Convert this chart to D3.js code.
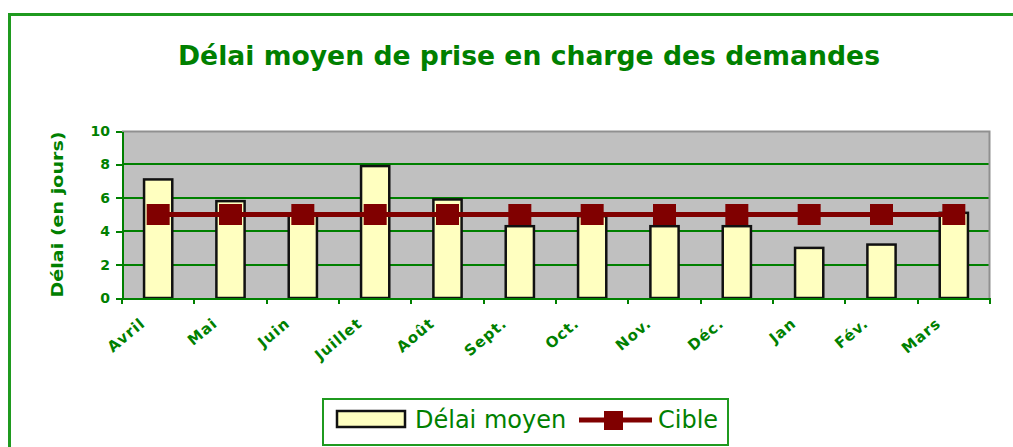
<!DOCTYPE html>
<meta charset="utf-8">
<head>
    <title>Délai moyen</title>
    <style>
        body { margin: 0; background: #ffffff; }
        svg { display: block; }
        .axis path, .axis line { stroke: #008000; stroke-width: 2px; shape-rendering: crispEdges; }
        .axis text { fill: #008000; font-family: "DejaVu Sans", sans-serif; font-weight: bold; }
        .grid line { stroke: #008000; stroke-width: 2px; shape-rendering: crispEdges; }
    </style>
</head>
<body>
<svg width="1013" height="447"></svg>
<script src="https://d3js.org/d3.v7.min.js"></script>
<script>
    var months = ["Avril", "Mai", "Juin", "Juillet", "Août", "Sept.", "Oct.", "Nov.", "Déc.", "Jan", "Fév.", "Mars"];
    var delai = [7.1, 5.8, 5.0, 7.9, 5.9, 4.3, 4.9, 4.3, 4.3, 3.0, 3.2, 5.1];
    var cible = [5, 5, 5, 5, 5, 5, 5, 5, 5, 5, 5, 5];
    var yTicks = [0, 2, 4, 6, 8, 10];

    var green = "#008000", dark = "#800000", barFill = "#FFFFC0";

    var svg = d3.select("svg");
    var margin = {top: 131, left: 122, right: 23, bottom: 149};
    var width = 1013 - margin.left - margin.right,
        height = 447 - margin.top - margin.bottom;

    // outer chart border (runs off the right and bottom)
    svg.append("rect")
        .attr("x", 9.5).attr("y", 14.5)
        .attr("width", 1100).attr("height", 600)
        .attr("fill", "none").attr("stroke", "#1f9a1f").attr("stroke-width", 3);

    svg.append("text")
        .attr("x", 529).attr("y", 65)
        .attr("text-anchor", "middle")
        .attr("textLength", 702).attr("lengthAdjust", "spacingAndGlyphs")
        .style("font-family", "DejaVu Sans, sans-serif")
        .style("font-weight", "bold").style("font-size", "26px")
        .style("fill", green)
        .text("Délai moyen de prise en charge des demandes");

    var x = d3.scaleBand().domain(months).range([0, width]).padding(0);
    var y = d3.scaleLinear().domain([0, 10]).range([height, 0]);

    var g = svg.append("g")
        .attr("transform", "translate(" + margin.left + "," + margin.top + ")");

    g.append("rect")
        .attr("width", width).attr("height", height)
        .attr("fill", "#C0C0C0");

    g.append("g").attr("class", "grid")
        .selectAll("line")
        .data(yTicks.slice(1, -1))
        .enter().append("line")
        .attr("x1", 0).attr("x2", width)
        .attr("y1", function(d) { return y(d); })
        .attr("y2", function(d) { return y(d); });

    // plot frame top/right in grey
    g.append("path")
        .attr("d", "M0,0.5H" + (width - 0.5) + "V" + height)
        .attr("fill", "none").attr("stroke", "#909090").attr("stroke-width", 2);

    var bw = x.step() * 0.39;
    g.selectAll(".bar")
        .data(delai)
        .enter().append("rect")
        .attr("class", "bar")
        .attr("x", function(d, i) { return x(months[i]) + x.step() / 2 - bw / 2; })
        .attr("y", function(d) { return y(d); })
        .attr("width", bw)
        .attr("height", function(d) { return height - y(d); })
        .attr("fill", barFill)
        .attr("stroke", "#111").attr("stroke-width", 2.5);

    var line = d3.line()
        .x(function(d, i) { return x(months[i]) + x.step() / 2; })
        .y(function(d) { return y(d); });

    g.append("path")
        .datum(cible)
        .attr("d", line)
        .attr("fill", "none").attr("stroke", dark).attr("stroke-width", 5);

    g.selectAll(".mark")
        .data(cible)
        .enter().append("rect")
        .attr("class", "mark")
        .attr("x", function(d, i) { return x(months[i]) + x.step() / 2 - 11.5; })
        .attr("y", function(d) { return y(d) - 10.5; })
        .attr("width", 23).attr("height", 21)
        .attr("fill", dark);

    var yAxis = g.append("g").attr("class", "axis")
        .call(d3.axisLeft(y).tickValues(yTicks).tickSizeInner(6).tickSizeOuter(0).tickPadding(6));
    yAxis.selectAll("text").style("font-size", "14px");

    var xAxis = g.append("g").attr("class", "axis")
        .attr("transform", "translate(0," + height + ")")
        .call(d3.axisBottom(x).tickSize(0).tickFormat(""));
    xAxis.selectAll(".sep")
        .data(d3.range(months.length + 1))
        .enter().append("line")
        .attr("class", "sep")
        .attr("x1", function(i) { return i * x.step(); })
        .attr("x2", function(i) { return i * x.step(); })
        .attr("y1", 0).attr("y2", 6);

    g.append("g")
        .selectAll("text")
        .data(months)
        .enter().append("text")
        .attr("transform", function(d) {
            return "translate(" + (x(d) + x.step() / 2 - 12) + "," + (height + 27) + ") rotate(-40)";
        })
        .attr("text-anchor", "end")
        .style("font-family", "DejaVu Sans, sans-serif")
        .style("font-weight", "bold").style("font-size", "15px")
        .style("letter-spacing", "1px")
        .style("fill", green)
        .text(function(d) { return d; });

    svg.append("text")
        .attr("transform", "translate(63," + (margin.top + height / 2) + ") rotate(-90)")
        .attr("text-anchor", "middle")
        .attr("textLength", 166).attr("lengthAdjust", "spacingAndGlyphs")
        .style("font-family", "DejaVu Sans, sans-serif")
        .style("font-weight", "bold").style("font-size", "15px")
        .style("fill", green)
        .text("Délai (en jours)");

    // legend
    var lg = svg.append("g").attr("transform", "translate(323,399)");
    lg.append("rect")
        .attr("width", 405).attr("height", 46)
        .attr("fill", "#fff").attr("stroke", "#1f9a1f").attr("stroke-width", 2);
    lg.append("rect")
        .attr("x", 14).attr("y", 12).attr("width", 68).attr("height", 16)
        .attr("fill", barFill).attr("stroke", "#111").attr("stroke-width", 2.5);
    lg.append("text")
        .attr("x", 92).attr("y", 29)
        .style("font-family", "DejaVu Sans, sans-serif").style("font-size", "24px")
        .style("fill", green)
        .text("Délai moyen");
    lg.append("line")
        .attr("x1", 256).attr("x2", 329).attr("y1", 21).attr("y2", 21)
        .attr("stroke", dark).attr("stroke-width", 5);
    lg.append("rect")
        .attr("x", 281).attr("y", 12).attr("width", 19).attr("height", 19)
        .attr("fill", dark);
    lg.append("text")
        .attr("x", 335).attr("y", 29)
        .style("font-family", "DejaVu Sans, sans-serif").style("font-size", "24px")
        .style("fill", green)
        .text("Cible");
</script>
</body>
